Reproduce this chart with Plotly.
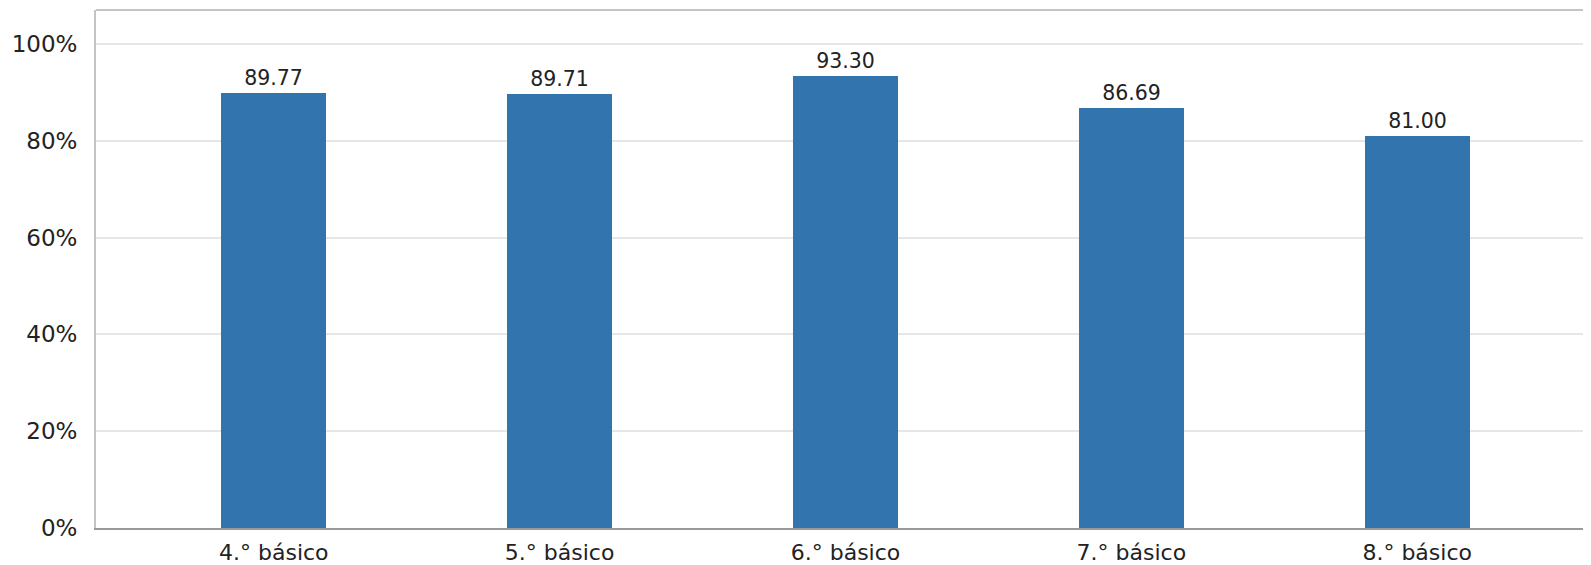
import plotly.graph_objects as go

categories = ["4.° básico", "5.° básico", "6.° básico", "7.° básico", "8.° básico"]
values = [89.77, 89.71, 93.30, 86.69, 81.00]
y_ticks = [0, 20, 40, 60, 80, 100]

fig = go.Figure()
fig.add_trace(go.Bar(
    x=list(range(len(categories))),
    y=values,
    width=0.368,
    marker=dict(color="#3274ad", line=dict(width=0)),
    text=[f"{v:.2f}" for v in values],
    textposition="outside",
    textfont=dict(family="DejaVu Sans", size=20.5, color="#222222"),
    cliponaxis=False,
))

fig.update_layout(
    width=1591, height=565,
    margin=dict(l=88, r=8, t=2, b=45, autoexpand=False),
    plot_bgcolor="white", paper_bgcolor="white",
    showlegend=False,
    bargap=0,
    shapes=[dict(type="line", xref="paper", yref="paper", x0=0, x1=1, y0=1, y1=1,
                 line=dict(color="#c4c4c4", width=2))],
)
fig.update_xaxes(
    tickmode="array",
    tickvals=list(range(len(categories))),
    ticktext=categories,
    range=[-0.622, 4.608],
    showline=True, linecolor="#999999", linewidth=2,
    showgrid=False, ticks="", automargin=False,
    ticklabelstandoff=4,
    tickfont=dict(family="DejaVu Sans", size=22, color="#222222"),
)
fig.update_yaxes(
    range=[0, 107.0],
    tickvals=y_ticks,
    ticktext=[f"{t}%" for t in y_ticks],
    showline=True, linecolor="#c4c4c4", linewidth=2,
    showgrid=True, gridcolor="#e6e6e6", gridwidth=2,
    zeroline=False, ticks="", automargin=False,
    ticklabelstandoff=12,
    tickfont=dict(family="DejaVu Sans", size=23, color="#222222"),
)

fig.write_html("out.html")
